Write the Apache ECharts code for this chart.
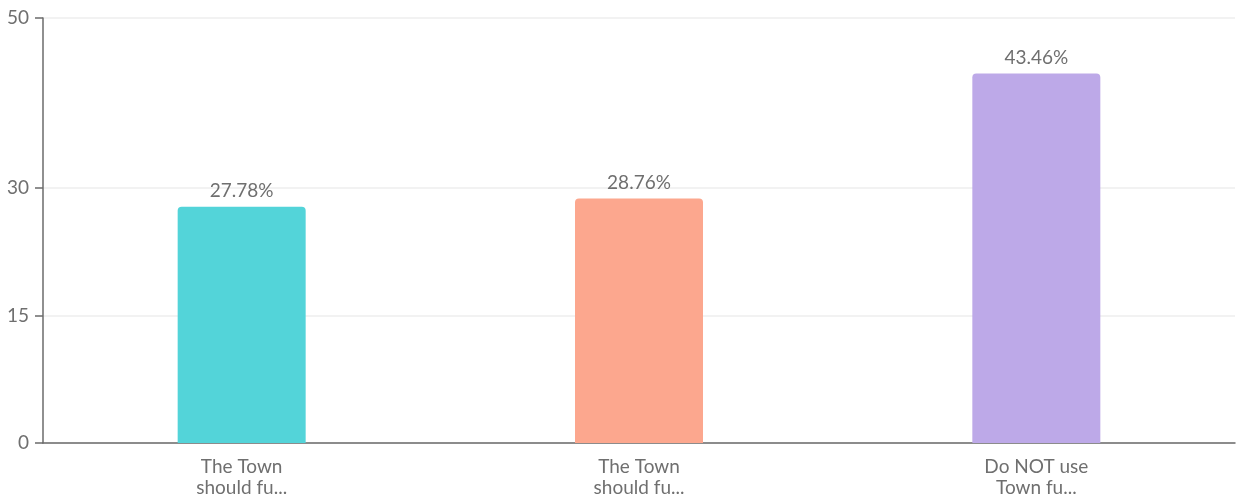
<!DOCTYPE html>
<html>
<head>
<meta charset="utf-8">
<script src="https://cdn.jsdelivr.net/npm/echarts@6/dist/echarts.min.js"></script>
<style>
  html, body { margin: 0; padding: 0; background: #fff; }
  #chart { width: 1237px; height: 500px; }
</style>
</head>
<body>
<div id="chart"></div>
<script>
// Survey responses (percent of respondents)
const categories = ['The Town\nshould fu...', 'The Town\nshould fu...', 'Do NOT use\nTown fu...'];
const percentages = [27.78, 28.76, 43.46];
const barColors = ['#53d4d9', '#fca78e', '#bda9e8'];
const yTicks = [0, 15, 30, 50];

const chart = echarts.init(document.getElementById('chart'));
const fontFamily = 'Lato, "Noto Sans", sans-serif';

chart.setOption({
  animation: false,
  grid: { left: 43, right: 2, top: 18, bottom: 57, containLabel: false },
  xAxis: {
    type: 'category',
    data: categories,
    axisLine: { lineStyle: { color: '#6b6b6b', width: 1.5 } },
    axisTick: { alignWithLabel: true, length: 8, lineStyle: { color: '#6b6b6b', width: 1.5 } },
    axisLabel: {
      color: '#6f6f6f', fontSize: 19, fontFamily: fontFamily,
      lineHeight: 21, margin: 13, interval: 0
    }
  },
  yAxis: {
    type: 'value',
    min: 0, max: 50,
    axisLine: { show: true, lineStyle: { color: '#6b6b6b', width: 1.5 } },
    axisTick: { show: true, length: 8, customValues: yTicks, lineStyle: { color: '#6b6b6b', width: 1.5 } },
    axisLabel: {
      color: '#6f6f6f', fontSize: 19, fontFamily: fontFamily,
      margin: 14, customValues: yTicks
    },
    splitLine: { show: true, lineStyle: { color: '#eeeeee', width: 1.5 } }
  },
  series: [{
    type: 'bar',
    barWidth: 128,
    data: percentages.map((v, i) => ({ value: v, itemStyle: { color: barColors[i] } })),
    itemStyle: { borderRadius: [4, 4, 0, 0] },
    label: {
      show: true, position: 'top', distance: 6,
      color: '#6f6f6f', fontSize: 19, fontFamily: fontFamily,
      formatter: p => p.value.toFixed(2) + '%'
    }
  }]
});
</script>
</body>
</html>
